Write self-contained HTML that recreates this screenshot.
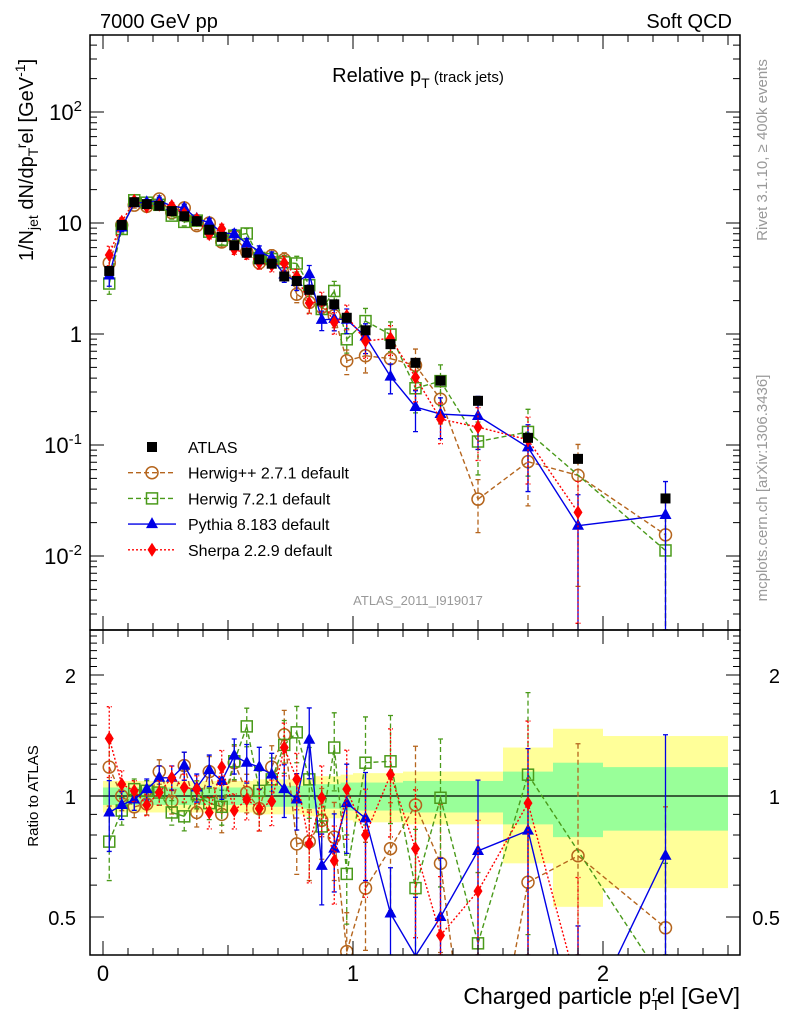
<!DOCTYPE html>
<html><head><meta charset="utf-8">
<style>
html,body{margin:0;padding:0;background:#fff;width:786px;height:1024px;overflow:hidden;}
svg{display:block;font-family:"Liberation Sans",Arial,sans-serif;}
</style></head>
<body>
<svg id="chart" width="786" height="1024" viewBox="0 0 786 1024">
<defs>
<clipPath id="clipMain"><rect x="90" y="35" width="650" height="595"/></clipPath>
<clipPath id="clipRatio"><rect x="90" y="630" width="650" height="325"/></clipPath>
</defs>
<text x="100" y="28" font-size="20">7000 GeV pp</text>
<text x="732" y="28" font-size="20" text-anchor="end">Soft QCD</text>
<text x="418" y="82" font-size="20" text-anchor="middle">Relative p<tspan font-size="14" dy="6">T</tspan><tspan font-size="15" dy="-6"> (track jets)</tspan></text>
<text x="418" y="605" font-size="13" fill="#999" text-anchor="middle">ATLAS_2011_I919017</text>
<text transform="translate(33,160) rotate(-90)" font-size="20" text-anchor="middle">1/N<tspan font-size="14" dy="5">jet</tspan><tspan dy="-5"> dN/dp</tspan><tspan font-size="14" dy="5">T</tspan><tspan font-size="14" dy="-12">r</tspan><tspan dy="7">el [GeV</tspan><tspan font-size="14" dy="-8">-1</tspan><tspan dy="8">]</tspan></text>
<text transform="translate(767,150) rotate(-90)" font-size="15" fill="#999" text-anchor="middle">Rivet 3.1.10, ≥ 400k events</text>
<text transform="translate(767,488) rotate(-90)" font-size="15" fill="#999" text-anchor="middle">mcplots.cern.ch [arXiv:1306.3436]</text>
<text transform="translate(38,796) rotate(-90)" font-size="15" text-anchor="middle">Ratio to ATLAS</text>
<text x="740" y="1004" font-size="23" text-anchor="end">Charged particle p<tspan font-size="15" dy="6">T</tspan><tspan font-size="15" dy="-14" dx="-8">r</tspan><tspan dy="8">el [GeV]</tspan></text>
<g id="bands" clip-path="url(#clipRatio)"></g>
<g id="ratioMarks" clip-path="url(#clipRatio)"></g>
<g id="mainMarks" clip-path="url(#clipMain)"></g>
<g id="axes"></g>
<g id="legend"></g>
</svg>
<script>
const xCenters = [0.025,0.075,0.125,0.175,0.225,0.275,0.325,0.375,0.425,0.475,0.525,0.575,0.625,0.675,0.725,0.775,0.825,0.875,0.925,0.975,1.05,1.15,1.25,1.35,1.5,1.7,1.9,2.25];
const xEdges = [0,0.05,0.1,0.15,0.2,0.25,0.3,0.35,0.4,0.45,0.5,0.55,0.6,0.65,0.7,0.75,0.8,0.85,0.9,0.95,1.0,1.1,1.2,1.3,1.4,1.6,1.8,2.0,2.5];
const atlas = [3.7,9.6,15.4,14.8,14.3,12.8,11.5,10.4,8.7,7.5,6.3,5.4,4.7,4.3,3.3,3.0,2.5,2.0,1.85,1.4,1.08,0.81,0.55,0.38,0.25,0.116,0.075,0.033];
const totErr = [0.09,0.09,0.09,0.09,0.09,0.09,0.09,0.09,0.09,0.09,0.09,0.09,0.1,0.1,0.1,0.1,0.11,0.12,0.12,0.13,0.14,0.14,0.15,0.15,0.15,0.32,0.47,0.41];
const statErr = [0.05,0.05,0.05,0.05,0.05,0.05,0.05,0.05,0.05,0.05,0.05,0.05,0.05,0.06,0.06,0.06,0.07,0.07,0.07,0.08,0.08,0.08,0.09,0.09,0.09,0.15,0.21,0.18];
const ratioHpp = [1.18,1.0,0.94,0.955,1.15,0.97,1.19,0.91,1.15,0.9,1.21,1.02,0.93,1.18,1.42,0.76,0.77,0.87,0.79,0.41,0.59,0.74,0.95,0.68,0.13,0.61,0.71,0.47];
const ratioH7 = [0.77,0.92,1.04,1.03,1.02,0.91,0.89,1.01,0.96,0.94,1.22,1.49,1.03,1.1,1.34,1.44,1.1,0.84,1.32,0.64,1.21,1.22,0.59,0.99,0.43,1.13,null,0.34];
const ratioPy = [0.91,0.95,0.98,1.04,1.11,1.11,1.19,1.05,1.16,1.09,1.26,1.21,1.18,1.13,1.04,0.98,1.38,0.67,0.74,0.96,0.88,0.51,0.4,0.5,0.73,0.82,0.25,0.71];
const ratioSh = [1.39,1.07,1.03,0.95,1.02,1.11,1.05,1.04,0.91,1.18,0.92,0.98,0.93,0.97,1.32,1.1,0.76,0.99,0.69,1.04,0.8,1.13,0.74,0.45,0.58,0.96,0.33,null];
const mcErr = [0.2,0.08,0.06,0.06,0.07,0.07,0.08,0.08,0.09,0.1,0.1,0.11,0.12,0.13,0.15,0.16,0.2,0.2,0.22,0.25,0.3,0.3,0.4,0.4,0.5,0.6,0.9,1.0];
const yTickLabels = ["10^-2","10^-1","1","10","10^2"];
const ratioTickLabels = ["0.5","1","2"];
const xTickLabels = ["0","1","2"];

const NS="http://www.w3.org/2000/svg";
function mk(tag,attrs,parent){const e=document.createElementNS(NS,tag);for(const k in attrs)e.setAttribute(k,attrs[k]);parent.appendChild(e);return e;}
const X0=90,X1=740,YT=35,YM=630,YB=955;
function xs(v){return 103+250*v;}
function ym(v){return 112-111*(Math.log10(v)-2);}
function yr(r){return 796-121*Math.log2(r);}
function clamp(y,a,b){return Math.max(a,Math.min(b,y));}
function clipSeg(p,q,top,bot){
  let [x1,y1]=p,[x2,y2]=q;
  if((y1<top&&y2<top)||(y1>bot&&y2>bot))return null;
  function cut(xa,ya,xb,yb){
    if(ya<top){xa=xa+(xb-xa)*(top-ya)/(yb-ya);ya=top;}
    else if(ya>bot){xa=xa+(xb-xa)*(bot-ya)/(yb-ya);ya=bot;}
    return [xa,ya];
  }
  const a=cut(x1,y1,x2,y2), b=cut(x2,y2,x1,y1);
  return `M${a[0].toFixed(1)},${a[1].toFixed(1)}L${b[0].toFixed(1)},${b[1].toFixed(1)}`;
}
const axes=document.getElementById('axes');
const mainG=document.getElementById('mainMarks');
const ratioG=document.getElementById('ratioMarks');
const bands=document.getElementById('bands');

for(let i=0;i<atlas.length;i++){
  const x0=xs(xEdges[i]),x1=xs(xEdges[i+1]);
  const ry=mk('rect',{x:x0,y:yr(1+totErr[i]),width:x1-x0,height:yr(1-totErr[i])-yr(1+totErr[i]),fill:'#ffff99'},bands);
  
  
  const rg=mk('rect',{x:x0,y:yr(1+statErr[i]),width:x1-x0,height:yr(1-statErr[i])-yr(1+statErr[i]),fill:'#99ff99'},bands);
  
  
}
const one=mk('line',{x1:X0,x2:X1,y1:yr(1),y2:yr(1),stroke:'#000','stroke-width':1.2},bands);



function marker(g,type,x,y,col){
  let e;
  if(type==='sq') e=mk('rect',{x:x-5,y:y-5,width:10,height:10,fill:'#000'},g);
  else if(type==='circ') e=mk('circle',{cx:x,cy:y,r:6,fill:'none',stroke:col,'stroke-width':1.5},g);
  else if(type==='osq') e=mk('rect',{x:x-5.5,y:y-5.5,width:11,height:11,fill:'none',stroke:col,'stroke-width':1.5},g);
  else if(type==='tri') e=mk('path',{d:`M${x},${y-7}L${x+6},${y+4}L${x-6},${y+4}Z`,fill:col},g);
  else e=mk('path',{d:`M${x},${y-7}L${x+4.5},${y}L${x},${y+7}L${x-4.5},${y}Z`,fill:col},g);
  return e;
}
const series=[
 {name:'herwigpp',r:ratioHpp,col:'#b5651d',dash:'5,3',m:'circ'},
 {name:'herwig7',r:ratioH7,col:'#4a9a1a',dash:'5,3',m:'osq'},
 {name:'pythia',r:ratioPy,col:'#0000e6',dash:'',m:'tri'},
 {name:'sherpa',r:ratioSh,col:'#ff0000',dash:'2,2',m:'dia'}
];
function drawSeries(s,g,fy,valFn,top,bot){
  let pts=[];
  for(let i=0;i<xCenters.length;i++){
    const r=s.r[i]; if(r===null) continue;
    const v=valFn(i); const x=xs(xCenters[i]);
    pts.push([x,fy(v)]);
    const lo=Math.max(v*(1-mcErr[i]),v*1e-4), hi=v*(1+mcErr[i]);
    if(fy(hi)>bot||fy(lo)<top)continue;
    const yh=clamp(fy(hi),top,bot), yl=clamp(fy(lo),top,bot);
    const eb=mk('path',{d:`M${x},${yh}V${yl}M${x-2.5},${yh}H${x+2.5}M${x-2.5},${yl}H${x+2.5}`,stroke:s.col,'stroke-width':1.3,'stroke-dasharray':s.dash,fill:'none'},g);
    
    
  }
  let d='';
  for(let k=0;k+1<pts.length;k++){const sg=clipSeg(pts[k],pts[k+1],top,bot);if(sg)d+=sg;}
  const pl=mk('path',{d:d,fill:'none',stroke:s.col,'stroke-width':1.4,'stroke-dasharray':s.dash},g);
  
  
  pts.forEach(p=>{if(p[1]<top||p[1]>bot)return;const m=marker(g,s.m,p[0],p[1],s.col);
    
    });
}
for(const s of series) drawSeries(s,mainG,ym,i=>atlas[i]*s.r[i],YT,YM);
for(let i=0;i<atlas.length;i++){
  const m=marker(mainG,'sq',xs(xCenters[i]),ym(atlas[i]),'#000');
  
  
}
for(const s of series) drawSeries(s,ratioG,yr,i=>s.r[i],YM,YB);

const f1=mk('rect',{x:X0,y:YT,width:X1-X0,height:YM-YT,fill:'none',stroke:'#000','stroke-width':1.5},axes);


const f2=mk('rect',{x:X0,y:YM,width:X1-X0,height:YB-YM,fill:'none',stroke:'#000','stroke-width':1.5},axes);


let d='';
for(let e=-3;e<=2;e++){for(let k=1;k<=9;k++){const v=k*Math.pow(10,e);const y=ym(v);if(y<YT||y>YM)continue;const L=k===1?14:7;d+=`M${X0},${y}h${L}M${X1},${y}h${-L}`;}}
for(let k=3;k<=26;k++){const r=k/10;const y=yr(r);if(y<YM||y>YB)continue;const L=(k===5||k===10||k===20)?14:7;d+=`M${X0},${y}h${L}M${X1},${y}h${-L}`;}
for(let k=0;k<=25;k++){const x=xs(k/10);const L=k%10===0?14:(k%5===0?10:7);d+=`M${x},${YB}v${-L}M${x},${YM}v${-L}M${x},${YM}v${L}M${x},${YT}v${L}`;}
const tk=mk('path',{d:d,stroke:'#000','stroke-width':1,fill:'none'},axes);


yTickLabels.forEach((lab,i)=>{const e=i-2;const y=ym(Math.pow(10,e));
  const t=mk('text',{x:82,y:y+8,'font-size':22,'text-anchor':'end'},axes);
  
  
  const p=lab.split('^');
  if(p.length===1)t.textContent=p[0];
  else{t.appendChild(document.createTextNode(p[0]));const s=mk('tspan',{'font-size':15,dy:-9},t);s.textContent=p[1];}
});
ratioTickLabels.forEach(lab=>{const y=yr(parseFloat(lab));
  const t=mk('text',{x:76,y:y+8,'font-size':20,'text-anchor':'end'},axes);t.textContent=lab;
  
  
  const t2=mk('text',{x:780,y:y+8,'font-size':20,'text-anchor':'end'},axes);t2.textContent=lab;
  
  
});
xTickLabels.forEach(lab=>{const t=mk('text',{x:xs(parseFloat(lab)),y:981,'font-size':22,'text-anchor':'middle'},axes);t.textContent=lab;
  
  });

const lg=document.getElementById('legend');
const legItems=[{lab:'ATLAS',m:'sq',col:'#000',dash:null},
 {lab:'Herwig++ 2.7.1 default',m:'circ',col:'#b5651d',dash:'5,3'},
 {lab:'Herwig 7.2.1 default',m:'osq',col:'#4a9a1a',dash:'5,3'},
 {lab:'Pythia 8.183 default',m:'tri',col:'#0000e6',dash:''},
 {lab:'Sherpa 2.2.9 default',m:'dia',col:'#ff0000',dash:'2,2'}];
legItems.forEach((it,i)=>{const y=447+25.7*i;
  const g=mk('g',{},lg);
  
  
  if(it.dash!==null)mk('line',{x1:128,x2:176,y1:y,y2:y,stroke:it.col,'stroke-width':1.4,'stroke-dasharray':it.dash},g);
  marker(g,it.m,152,y,it.col);
  const t=mk('text',{x:188,y:y+6,'font-size':16},g);t.textContent=it.lab;
});
</script>
</body></html>
